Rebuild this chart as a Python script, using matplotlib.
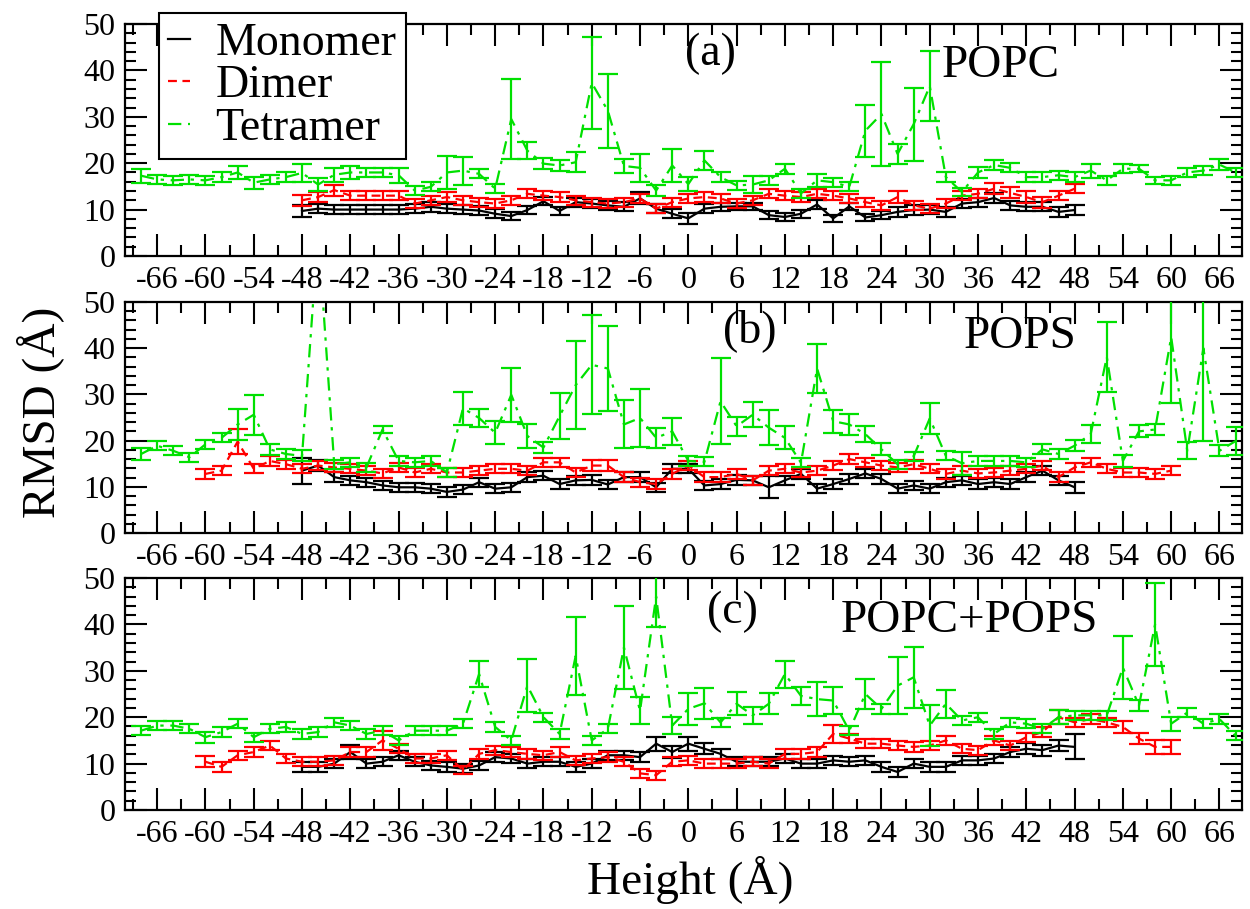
import matplotlib.pyplot as plt
from matplotlib.lines import Line2D
from matplotlib.ticker import MultipleLocator

plt.rcParams['font.family'] = ['Liberation Serif', 'DejaVu Serif']
plt.rcParams['axes.unicode_minus'] = False

# heights (Angstrom)
x_tet = [-68, -66, -64, -62, -60, -58, -56, -54, -52, -50,
         -48, -46, -44, -42, -40, -38, -36, -34, -32, -30,
         -28, -26, -24, -22, -20, -18, -16, -14, -12, -10,
         -8, -6, -4, -2, 0, 2, 4, 6, 8, 10,
         12, 14, 16, 18, 20, 22, 24, 26, 28, 30,
         32, 34, 36, 38, 40, 42, 44, 46, 48, 50,
         52, 54, 56, 58, 60, 62, 64, 66, 68]
x_mon = [-48, -46, -44, -42, -40, -38, -36, -34, -32, -30,
         -28, -26, -24, -22, -20, -18, -16, -14, -12, -10,
         -8, -6, -4, -2, 0, 2, 4, 6, 8, 10,
         12, 14, 16, 18, 20, 22, 24, 26, 28, 30,
         32, 34, 36, 38, 40, 42, 44, 46, 48]
x_dim = [-60, -58, -56, -54, -52, -50, -48, -46, -44, -42,
         -40, -38, -36, -34, -32, -30, -28, -26, -24, -22,
         -20, -18, -16, -14, -12, -10, -8, -6, -4, -2,
         0, 2, 4, 6, 8, 10, 12, 14, 16, 18,
         20, 22, 24, 26, 28, 30, 32, 34, 36, 38,
         40, 42, 44, 46, 48, 50, 52, 54, 56, 58,
         60]

# ---- (a) POPC
tet_a = [17.3, 16.5, 16.3, 16.5, 16.3, 17.0, 18.0, 15.8, 16.5, 17.0,
         17.9, 15.4, 17.5, 18.0, 18.0, 18.0, 17.4, 14.1, 14.9, 18.0,
         18.4, 17.7, 14.5, 29.5, 22.7, 19.9, 19.5, 20.2, 37.3, 31.3,
         19.4, 19.0, 14.1, 19.5, 15.5, 20.6, 17.0, 15.2, 15.4, 16.3,
         18.8, 13.5, 16.3, 15.9, 14.9, 27.0, 30.6, 22.0, 28.4, 36.6,
         17.0, 13.8, 18.0, 19.6, 19.0, 17.0, 17.0, 17.4, 17.0, 18.4,
         16.3, 18.8, 18.8, 16.3, 16.3, 18.0, 18.4, 19.7, 18.0]
tet_a_err = [1.5, 1.0, 1.0, 1.0, 1.0, 1.0, 1.5, 1.3, 1.0, 1.0,
             2.0, 1.3, 1.5, 1.5, 1.0, 1.0, 1.6, 1.0, 1.0, 3.5,
             3.0, 1.0, 1.0, 8.7, 1.8, 1.2, 1.2, 2.2, 10.0, 8.0,
             1.5, 3.0, 1.2, 3.5, 1.5, 2.0, 1.0, 1.0, 1.8, 1.0,
             1.1, 1.0, 1.4, 1.0, 1.0, 5.6, 11.2, 2.2, 7.9, 7.6,
             1.1, 0.8, 1.2, 1.0, 1.0, 1.0, 1.0, 1.0, 1.0, 1.5,
             1.0, 1.0, 0.8, 0.8, 1.0, 1.0, 1.0, 1.2, 1.0]
mon_a = [9.7, 10.2, 10.0, 10.0, 10.0, 10.0, 10.0, 10.2, 10.6, 10.2,
         10.0, 9.8, 9.1, 8.6, 9.9, 11.8, 9.7, 11.6, 11.3, 10.9,
         10.6, 12.4, 10.2, 9.1, 8.1, 10.2, 10.6, 10.7, 10.7, 8.8,
         8.4, 9.1, 11.1, 8.1, 10.7, 8.3, 8.8, 9.5, 9.9, 10.0,
         9.5, 11.3, 11.6, 12.5, 10.9, 10.6, 10.6, 9.5, 9.9]
mon_a_err = [1.2, 1.0, 0.9, 0.9, 0.9, 0.9, 1.0, 1.0, 1.1, 1.0,
             1.0, 1.0, 1.0, 0.8, 0.9, 0.9, 0.9, 1.0, 0.9, 0.9,
             1.0, 1.3, 1.0, 1.0, 1.2, 0.9, 0.9, 0.8, 0.8, 0.8,
             0.8, 0.9, 0.9, 0.8, 0.8, 0.8, 0.9, 1.0, 1.0, 1.0,
             1.0, 1.0, 1.0, 1.0, 1.0, 1.0, 1.0, 1.0, 1.0]
dim_a = [12.0, 12.7, 14.2, 13.0, 13.0, 13.0, 13.0, 11.3, 12.0, 12.7,
         12.0, 11.6, 11.3, 12.0, 13.4, 13.0, 12.7, 12.0, 11.6, 11.3,
         11.6, 12.4, 10.2, 11.6, 12.4, 12.7, 12.4, 11.3, 12.0, 13.4,
         13.0, 12.7, 13.4, 13.0, 12.4, 11.6, 10.9, 12.7, 10.9, 10.2,
         11.3, 13.0, 13.4, 14.5, 13.6, 12.7, 11.6, 13.0, 14.5]
dim_a_err = [1.2, 1.0, 1.2, 1.0, 1.0, 1.0, 1.0, 1.0, 1.0, 1.0,
             1.0, 1.0, 1.0, 1.0, 1.0, 1.0, 1.0, 1.0, 1.0, 1.0,
             1.0, 1.0, 1.0, 1.0, 1.0, 1.0, 1.0, 1.0, 1.0, 1.0,
             1.0, 1.0, 1.0, 1.0, 1.0, 1.0, 1.0, 1.2, 1.0, 1.0,
             1.0, 1.0, 1.0, 1.2, 1.2, 1.2, 1.2, 1.0, 1.0]

# ---- (b) POPS
tet_b = [17.1, 18.9, 17.8, 16.4, 19.2, 20.6, 23.5, 25.6, 18.1, 17.1,
         16.7, 65.0, 14.9, 15.3, 14.2, 22.4, 15.6, 15.3, 15.6, 13.1,
         27.0, 24.9, 21.7, 29.9, 21.0, 18.5, 25.3, 32.0, 36.4, 35.6,
         23.5, 24.9, 20.6, 22.0, 15.6, 15.4, 28.5, 23.1, 25.6, 22.8,
         20.6, 15.2, 35.6, 24.2, 23.5, 21.4, 18.1, 14.9, 16.6, 24.8,
         16.7, 15.1, 15.6, 15.6, 15.6, 15.3, 18.1, 17.1, 18.9, 21.4,
         38.1, 15.6, 22.0, 22.4, 42.4, 17.8, 40.0, 17.8, 19.9]
tet_b_err = [1.2, 1.0, 1.0, 1.0, 1.0, 1.0, 3.3, 4.3, 1.2, 1.0,
             1.2, 10.0, 1.0, 1.0, 1.0, 0.8, 1.0, 1.0, 1.0, 1.0,
             3.6, 2.0, 2.5, 5.9, 2.7, 1.2, 5.0, 9.5, 10.7, 9.3,
             5.2, 6.3, 2.1, 3.0, 1.0, 1.0, 9.3, 2.0, 2.7, 3.8,
             2.5, 1.0, 5.2, 2.5, 2.3, 1.8, 1.3, 1.0, 1.0, 3.4,
             1.0, 2.5, 1.0, 1.0, 1.0, 1.0, 1.1, 1.0, 1.2, 1.9,
             7.5, 1.3, 1.3, 1.2, 14.3, 1.8, 20.0, 1.2, 3.0]
mon_b = [13.5, 14.6, 12.1, 11.4, 11.0, 10.3, 9.9, 9.9, 9.6, 8.9,
         9.4, 11.0, 9.6, 9.9, 12.1, 12.4, 10.6, 11.4, 11.5, 10.5,
         12.1, 12.1, 9.9, 13.9, 13.9, 10.3, 10.6, 11.5, 11.4, 9.9,
         11.4, 12.8, 9.6, 10.6, 11.7, 12.9, 11.7, 9.6, 10.3, 9.6,
         11.0, 11.4, 10.6, 11.0, 10.6, 12.1, 13.5, 11.4, 9.9]
mon_b_err = [2.8, 1.2, 1.0, 1.0, 1.0, 1.0, 1.0, 1.0, 1.0, 1.0,
             1.0, 1.0, 1.0, 1.0, 1.0, 1.0, 1.0, 1.0, 1.0, 1.0,
             1.0, 1.0, 1.0, 1.0, 1.0, 1.0, 1.0, 1.0, 1.0, 2.4,
             1.0, 1.0, 1.0, 1.0, 1.0, 1.0, 1.0, 1.0, 1.0, 1.0,
             1.0, 1.0, 1.0, 1.0, 1.0, 1.0, 1.0, 1.0, 1.2]
dim_b = [12.8, 13.5, 19.8, 13.9, 15.6, 14.9, 13.9, 14.6, 14.2, 13.9,
         13.5, 12.9, 14.2, 13.1, 13.9, 13.1, 13.1, 13.5, 13.9, 13.9,
         13.5, 15.3, 15.3, 13.1, 14.6, 14.6, 12.1, 11.0, 10.6, 12.8,
         14.6, 12.1, 12.1, 12.8, 11.4, 13.5, 13.9, 13.1, 13.5, 14.6,
         16.0, 15.3, 14.6, 14.2, 14.9, 13.9, 12.8, 13.5, 12.9, 13.1,
         13.5, 13.9, 14.6, 12.1, 14.2, 15.3, 13.9, 13.1, 13.1, 12.8,
         13.5]
dim_b_err = [1.0, 1.0, 2.8, 1.0, 1.0, 1.0, 1.0, 1.0, 1.0, 1.0,
             1.0, 1.0, 1.0, 1.0, 1.0, 1.0, 1.0, 1.0, 1.0, 1.0,
             1.0, 1.0, 1.0, 1.0, 1.2, 1.2, 1.0, 1.0, 1.0, 1.0,
             1.0, 1.0, 1.0, 1.0, 1.0, 1.0, 1.0, 1.0, 1.0, 1.0,
             1.0, 1.0, 1.0, 1.0, 1.0, 1.0, 1.0, 1.0, 1.0, 1.0,
             1.0, 1.0, 1.0, 1.0, 1.0, 1.0, 1.0, 1.0, 1.0, 1.0,
             1.0]

# ---- (c) POPC+POPS
tet_c = [17.1, 18.2, 18.2, 17.5, 15.7, 16.8, 18.6, 15.7, 17.5, 17.9,
         16.4, 16.8, 18.9, 18.2, 16.4, 17.1, 15.0, 17.1, 17.1, 17.1,
         18.6, 29.3, 17.9, 15.0, 26.8, 20.0, 16.4, 33.2, 15.0, 17.5,
         35.0, 21.4, 46.0, 18.2, 21.8, 23.0, 18.9, 22.9, 20.4, 22.9,
         29.3, 24.6, 23.9, 23.6, 17.1, 25.0, 21.8, 26.8, 28.6, 18.2,
         22.9, 19.3, 20.0, 16.4, 18.9, 18.6, 17.5, 20.0, 20.4, 20.4,
         20.4, 30.7, 22.5, 40.0, 18.6, 21.0, 18.6, 19.6, 16.0]
tet_c_err = [1.0, 1.0, 1.0, 1.0, 1.2, 1.0, 1.0, 1.0, 1.0, 1.0,
             1.0, 1.0, 1.0, 1.0, 1.0, 1.0, 1.0, 1.0, 1.0, 1.0,
             1.0, 2.8, 1.0, 1.0, 5.7, 1.0, 1.0, 8.5, 1.0, 1.0,
             9.0, 2.9, 6.5, 1.8, 3.5, 3.4, 1.0, 2.5, 1.8, 2.3,
             2.9, 2.0, 3.7, 3.0, 1.0, 3.2, 1.0, 6.2, 6.6, 4.5,
             3.0, 1.0, 1.0, 1.0, 1.0, 1.0, 1.0, 1.5, 1.0, 1.0,
             1.0, 6.8, 1.2, 9.0, 1.5, 1.0, 1.0, 1.0, 1.0]
mon_c = [9.3, 9.3, 10.0, 12.5, 10.0, 10.4, 11.8, 10.4, 9.6, 9.3,
         8.9, 9.6, 11.4, 11.1, 10.0, 10.4, 10.4, 9.3, 10.0, 11.8,
         11.8, 11.4, 14.3, 12.5, 14.3, 13.2, 12.1, 10.4, 10.4, 10.4,
         11.1, 10.0, 10.0, 10.7, 10.4, 10.7, 9.3, 8.2, 10.0, 9.3,
         9.3, 10.7, 10.7, 11.1, 12.5, 13.2, 12.9, 13.9, 13.6]
mon_c_err = [1.0, 1.0, 1.0, 1.5, 1.0, 1.0, 1.0, 1.0, 1.0, 1.0,
             1.0, 1.0, 1.0, 1.0, 1.0, 1.0, 1.0, 1.0, 1.0, 1.0,
             1.0, 1.0, 1.5, 1.2, 1.5, 1.2, 1.0, 1.0, 1.0, 1.0,
             1.0, 1.0, 1.0, 1.0, 1.0, 1.0, 1.0, 1.0, 1.0, 1.0,
             1.0, 1.0, 1.0, 1.0, 1.0, 1.2, 1.2, 1.2, 2.7]
dim_c = [10.4, 9.3, 11.8, 12.5, 13.9, 11.1, 10.4, 10.4, 10.7, 12.5,
         12.5, 15.0, 13.2, 11.1, 11.1, 11.8, 8.6, 12.1, 12.9, 12.5,
         12.1, 11.8, 12.5, 10.7, 11.1, 11.4, 10.4, 7.9, 7.5, 10.4,
         10.7, 10.0, 10.0, 10.0, 10.4, 10.0, 12.1, 12.1, 12.5, 16.4,
         15.4, 14.3, 14.3, 13.9, 13.6, 13.9, 15.0, 13.2, 12.9, 15.0,
         13.9, 15.7, 16.8, 20.0, 18.9, 19.6, 18.9, 17.9, 15.4, 13.6,
         13.6]
dim_c_err = [1.2, 1.0, 1.0, 1.0, 1.0, 1.0, 1.0, 1.0, 1.0, 1.0,
             1.0, 2.0, 1.0, 1.0, 1.0, 1.0, 0.8, 1.0, 1.0, 1.0,
             1.0, 1.0, 1.0, 1.0, 1.0, 1.0, 1.0, 1.0, 1.0, 1.0,
             1.0, 1.0, 1.0, 1.0, 1.0, 1.0, 1.0, 1.0, 1.0, 2.0,
             1.0, 1.0, 1.0, 1.0, 1.0, 1.0, 1.0, 1.0, 1.0, 1.0,
             1.0, 1.0, 1.0, 1.5, 1.0, 1.0, 1.0, 1.2, 1.2, 1.5,
             1.5]

panels = [
    ("(a)", "POPC", x_mon, mon_a, mon_a_err, x_mon, dim_a, dim_a_err, tet_a, tet_a_err),
    ("(b)", "POPS", x_mon, mon_b, mon_b_err, x_dim, dim_b, dim_b_err, tet_b, tet_b_err),
    ("(c)", "POPC+POPS", x_mon, mon_c, mon_c_err, x_dim, dim_c, dim_c_err, tet_c, tet_c_err),
]
# (left, bottom, width, height) in figure fractions
rects = [(0.1, 0.7184, 0.8936, 0.2552),
         (0.1, 0.4136, 0.8936, 0.2542),
         (0.1, 0.1089, 0.8936, 0.2552)]
tag_pos = [(0.524, 0.87), (0.559, 0.876), (0.544, 0.855)]
name_pos = [(0.784, 0.822), (0.801, 0.85), (0.756, 0.815)]

GREEN = '#00e000'
RED = '#ff0000'
lw = 1.6
cap = 7.5
styles = {
    'mon': dict(color='black', linestyle='-'),
    'dim': dict(color=RED, linestyle=(0, (4, 2.5))),
    'tet': dict(color=GREEN, linestyle=(0, (6, 3, 1.5, 3))),
}

fig = plt.figure(figsize=(12.5, 9.09), dpi=100)

for i, (tag, name, xm, m, me, xd, d, de, t, te) in enumerate(panels):
    ax = fig.add_axes(rects[i])
    ax.errorbar(xm, m, yerr=me, lw=lw, elinewidth=lw, capsize=cap, capthick=lw,
                zorder=2, **styles['mon'])
    ax.errorbar(xd, d, yerr=de, lw=lw, elinewidth=lw, capsize=cap, capthick=lw,
                zorder=3, **styles['dim'])
    ax.errorbar(x_tet, t, yerr=te, lw=lw, elinewidth=lw, capsize=cap, capthick=lw,
                zorder=4, **styles['tet'])
    ax.set_xlim(-70, 68.8)
    ax.set_ylim(0, 50)
    ax.xaxis.set_major_locator(MultipleLocator(6))
    ax.xaxis.set_minor_locator(MultipleLocator(3))
    ax.yaxis.set_major_locator(MultipleLocator(10))
    ax.yaxis.set_minor_locator(MultipleLocator(2))
    ax.tick_params(which='both', direction='in', top=True, right=True, width=1.5)
    ax.tick_params(which='major', length=16, labelsize=23, pad=7)
    ax.tick_params(which='minor', length=8)
    for s in ax.spines.values():
        s.set_linewidth(1.6)
    ax.text(*tag_pos[i], tag, transform=ax.transAxes, fontsize=33,
            ha='center', va='center')
    ax.text(*name_pos[i], name, transform=ax.transAxes, fontsize=34,
            ha='center', va='center')

handles = [Line2D([], [], lw=lw, **styles['mon']),
           Line2D([], [], lw=lw, **styles['dim']),
           Line2D([], [], lw=lw, **styles['tet'])]
leg = fig.legend(handles, ['Monomer', 'Dimer', 'Tetramer'],
                 loc='upper left', bbox_to_anchor=(159 / 1250, 1 - 13 / 909),
                 fontsize=33, frameon=True, fancybox=False, framealpha=1,
                 edgecolor='black', handlelength=0.48, handletextpad=0.55,
                 labelspacing=0.0, borderpad=0.2, borderaxespad=0)
leg.get_frame().set_linewidth(1.5)
leg.set_zorder(10)

fig.text(40 / 1250, 1 - 412 / 909, 'RMSD (Å)', rotation=90, fontsize=34,
         ha='center', va='center')
fig.text(690 / 1250, 1 - 880 / 909, 'Height (Å)', fontsize=34,
         ha='center', va='center')

fig.savefig('out.png', dpi=100)
